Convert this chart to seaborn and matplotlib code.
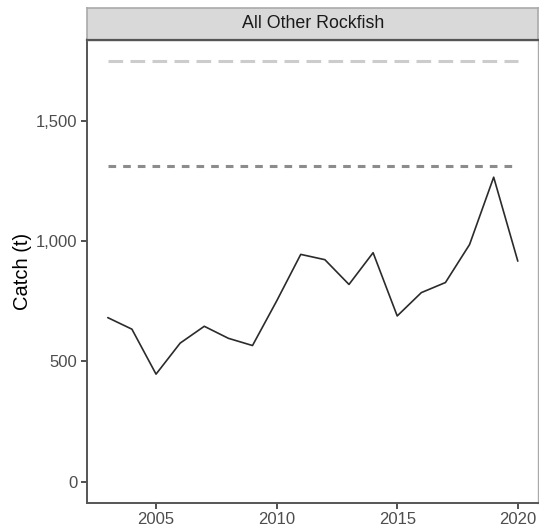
import seaborn as sns
import matplotlib.pyplot as plt
import pandas as pd
from matplotlib.ticker import FuncFormatter

# catch series
years = [2003, 2004, 2005, 2006, 2007, 2008, 2009, 2010, 2011,
         2012, 2013, 2014, 2015, 2016, 2017, 2018, 2019, 2020]
catch = [682, 634, 447, 576, 646, 596, 566, 751, 945,
         923, 820, 952, 689, 786, 828, 986, 1266, 917]

# reference levels (dashed lines)
ofl = 1751
abc = 1314
species = "All Other Rockfish"

sns.set_style("white")
plt.rcParams['font.family'] = ['Liberation Sans', 'DejaVu Sans']

df = pd.DataFrame({"Year": years, "Catch": catch})

fig = plt.figure(figsize=(5.39, 5.30), dpi=100)
ax = fig.add_axes([87.3/539, 1-502.7/530, (538.3-87.3)/539, (502.7-39.5)/530])

# reference lines
ax.hlines(ofl, years[0], years[-1], color="#cccccc", lw=2.2,
          linestyles=(0, (4.8, 2.4)))
ax.hlines(abc, years[0], years[-1], color="#8c8c8c", lw=2.2,
          linestyles=(0, (2.5, 2.3)))

sns.lineplot(data=df, x="Year", y="Catch", color="#2b2b2b", lw=1.2, ax=ax)

span = ofl - 0
ax.set_ylim(0 - 0.05*span, ofl + 0.05*span)
xspan = years[-1] - years[0]
ax.set_xlim(years[0] - 0.05*xspan, years[-1] + 0.05*xspan)

ax.set_yticks([0, 500, 1000, 1500])
ax.set_xticks([2005, 2010, 2015, 2020])
ax.yaxis.set_major_formatter(FuncFormatter(lambda v, p: f"{int(v):,}"))
ax.tick_params(axis="both", labelsize=12, colors="#333333", labelcolor="#4d4d4d",
               length=4, width=1.2, left=True, bottom=True, pad=3)

ax.set_xlabel("")
ax.set_ylabel("Catch (t)", fontsize=14.5, color="black", labelpad=3)

for side in ["left", "bottom"]:
    ax.spines[side].set_color("#555555")
    ax.spines[side].set_linewidth(1.4)
for side in ["right", "top"]:
    ax.spines[side].set_color("#aaaaaa")
    ax.spines[side].set_linewidth(1.0)

# facet strip
sax = fig.add_axes([87.3/539, 1-39.5/530, (538.3-87.3)/539, (39.5-7.7)/530])
sax.set_facecolor("#d9d9d9")
sax.set_xticks([])
sax.set_yticks([])
for side in sax.spines:
    sax.spines[side].set_color("#aaaaaa")
    sax.spines[side].set_linewidth(1.2)
sax.spines["bottom"].set_color("#555555")
sax.spines["bottom"].set_linewidth(1.6)
sax.text(0.5, 0.5, species, ha="center", va="center", fontsize=12.8,
         color="#1a1a1a", transform=sax.transAxes)

fig.savefig("out.png", dpi=100)
